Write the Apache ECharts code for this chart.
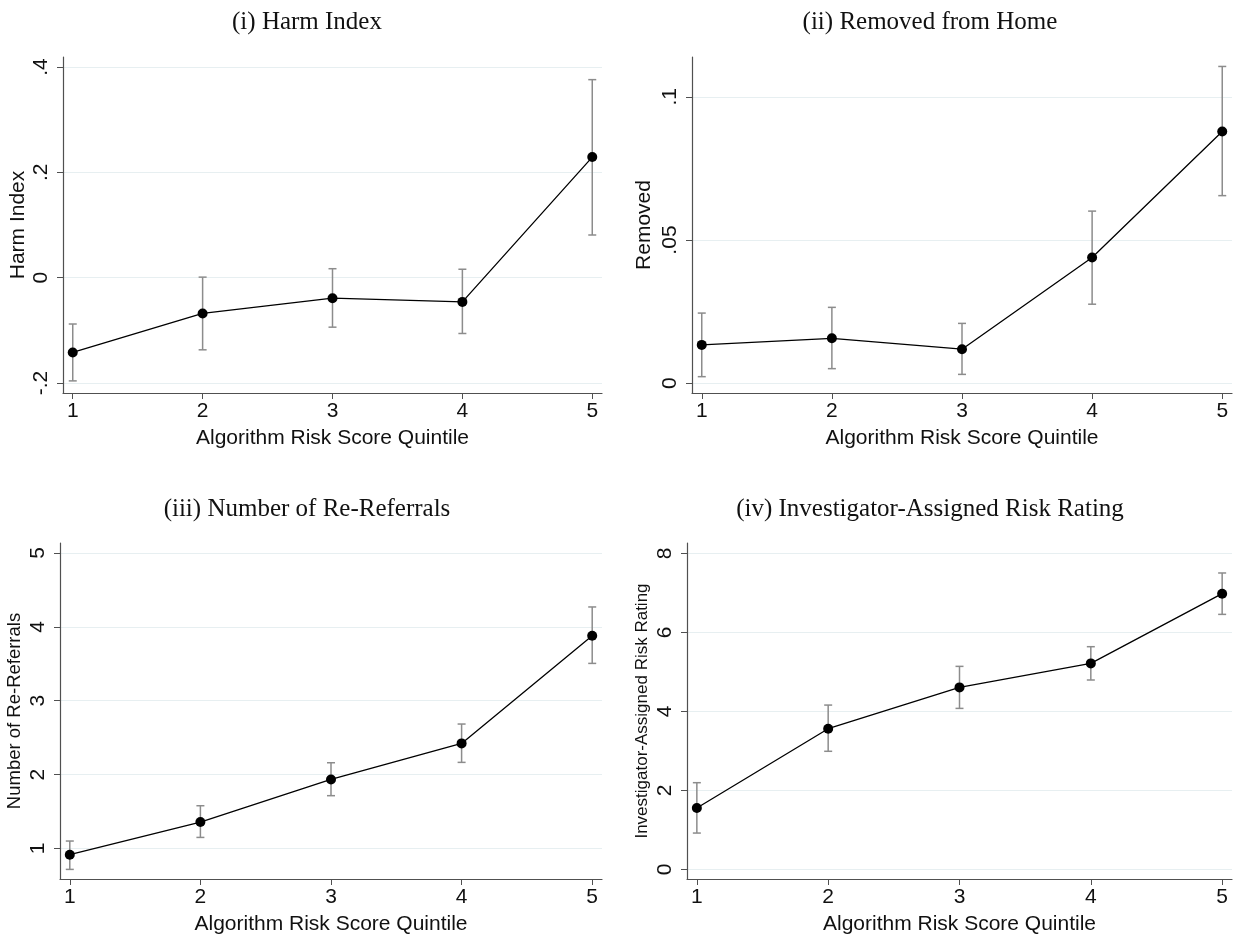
<!DOCTYPE html>
<html><head><meta charset="utf-8">
<script src="https://cdn.jsdelivr.net/npm/echarts@6/dist/echarts.min.js"></script>
<style>html,body{margin:0;padding:0;background:#fff}#c{width:1233px;height:938px}</style>
</head><body><div id="c"></div>
<script>
// ---- data ----
const quintiles = [1, 2, 3, 4, 5];
const xTicks = [1, 2, 3, 4, 5];

const harmMean = [-0.142, -0.068, -0.039, -0.046, 0.229];
const harmLo   = [-0.196, -0.137, -0.094, -0.106, 0.081];
const harmHi   = [-0.088, 0.001, 0.017, 0.016, 0.376];
const harmTicks = [-0.2, 0, 0.2, 0.4];

const removedMean = [0.0134, 0.0157, 0.0119, 0.0439, 0.0879];
const removedLo   = [0.0023, 0.0051, 0.0031, 0.0276, 0.0655];
const removedHi   = [0.0245, 0.0265, 0.0209, 0.0601, 0.1106];
const removedTicks = [0, 0.05, 0.1];

const rerefMean = [0.915, 1.357, 1.934, 2.422, 3.880];
const rerefLo   = [0.716, 1.149, 1.714, 2.165, 3.505];
const rerefHi   = [1.100, 1.578, 2.160, 2.684, 4.269];
const rerefTicks = [1, 2, 3, 4, 5];

const ratingMean = [1.554, 3.562, 4.608, 5.215, 6.980];
const ratingLo   = [0.920, 2.990, 4.076, 4.795, 6.456];
const ratingHi   = [2.195, 4.160, 5.140, 5.638, 7.504];
const ratingTicks = [0, 2, 4, 6, 8];

const titles = ['(i) Harm Index', '(ii) Removed from Home', '(iii) Number of Re-Referrals', '(iv) Investigator-Assigned Risk Rating'];
const yNames = ['Harm Index', 'Removed', 'Number of Re-Referrals', 'Investigator-Assigned Risk Rating'];
const xName = 'Algorithm Risk Score Quintile';

// ---- layout ----
const panels = [
  {mean: harmMean, lo: harmLo, hi: harmHi, ticks: harmTicks, ymin: -0.219, ymax: 0.419,
   grid: {left: 63, top: 57, width: 539, height: 336}, titleX: 302, titleY: 5, yNameSize: 21, yNameGap: 34},
  {mean: removedMean, lo: removedLo, hi: removedHi, ticks: removedTicks, ymin: -0.0034, ymax: 0.1139,
   grid: {left: 692, top: 57, width: 540, height: 336}, titleX: 925, titleY: 5, yNameSize: 21, yNameGap: 37},
  {mean: rerefMean, lo: rerefLo, hi: rerefHi, ticks: rerefTicks, ymin: 0.586, ymax: 5.135,
   grid: {left: 60, top: 543, width: 542, height: 336}, titleX: 302, titleY: 492, yNameSize: 18.5, yNameGap: 36},
  {mean: ratingMean, lo: ratingLo, hi: ratingHi, ticks: ratingTicks, ymin: -0.243, ymax: 8.263,
   grid: {left: 687, top: 543, width: 545, height: 336}, titleX: 925, titleY: 492, yNameSize: 17, yNameGap: 36}
];

const sans = 'Liberation Sans';
const axisColor = '#505050';
const gridColor = '#e7eff1';
const fmt = v => String(+(+v).toFixed(4)).replace(/^(-?)0\./, '$1.');

const option = {
  backgroundColor: '#fff',
  animation: false,
  title: [], grid: [], xAxis: [], yAxis: [], series: []
};

panels.forEach((p, i) => {
  option.title.push({
    text: titles[i], left: p.titleX, top: p.titleY, textAlign: 'center',
    textStyle: {fontFamily: 'Liberation Serif', fontWeight: 'normal', fontSize: 25, color: '#111'}
  });
  option.grid.push(Object.assign({outerBoundsMode: 'none', containLabel: false}, p.grid));
  option.xAxis.push({
    type: 'value', gridIndex: i, min: 0.925, max: 5.075,
    name: xName, nameLocation: 'middle', nameGap: 35,
    nameTextStyle: {fontFamily: sans, fontSize: 21, color: '#111'},
    axisLine: {show: true, onZero: false, lineStyle: {color: axisColor, width: 1.2}},
    axisTick: {show: true, customValues: xTicks, length: 6, lineStyle: {color: axisColor}},
    axisLabel: {customValues: xTicks, margin: 8, fontFamily: sans, fontSize: 21, color: '#111', formatter: v => String(v)},
    splitLine: {show: false}
  });
  option.yAxis.push({
    type: 'value', gridIndex: i, min: p.ymin, max: p.ymax,
    name: yNames[i], nameLocation: 'middle', nameGap: p.yNameGap, nameRotate: 90,
    nameTextStyle: {fontFamily: sans, fontSize: p.yNameSize, color: '#111'},
    axisLine: {show: true, onZero: false, lineStyle: {color: axisColor, width: 1.2}},
    axisTick: {show: true, customValues: p.ticks, length: 6, lineStyle: {color: axisColor}},
    axisLabel: {customValues: p.ticks, rotate: 90, margin: 11, fontFamily: sans, fontSize: 21, color: '#111', formatter: fmt},
    splitLine: {show: false}
  });
  // error bars (with gridlines as markLine underneath)
  option.series.push({
    type: 'custom', xAxisIndex: i, yAxisIndex: i, z: 2,
    data: quintiles.map((q, k) => [q, p.lo[k], p.hi[k]]),
    encode: {x: 0, y: [1, 2]},
    renderItem: (params, api) => {
      const x = api.value(0);
      const a = api.coord([x, api.value(1)]);
      const b = api.coord([x, api.value(2)]);
      const hw = 4;
      const st = {stroke: '#8c8c8c', lineWidth: 1.5};
      return {type: 'group', children: [
        {type: 'line', shape: {x1: a[0], y1: a[1], x2: b[0], y2: b[1]}, style: st},
        {type: 'line', shape: {x1: a[0] - hw, y1: a[1], x2: a[0] + hw, y2: a[1]}, style: st},
        {type: 'line', shape: {x1: b[0] - hw, y1: b[1], x2: b[0] + hw, y2: b[1]}, style: st}
      ]};
    },
    markLine: {
      silent: true, z: 0, zlevel: 0, symbol: ['none', 'none'], label: {show: false}, animation: false,
      lineStyle: {color: gridColor, width: 1.2, type: 'solid'},
      emphasis: {disabled: true},
      data: p.ticks.map(t => ({yAxis: t}))
    }
  });
  option.series.push({
    type: 'line', xAxisIndex: i, yAxisIndex: i, z: 3,
    data: quintiles.map((q, k) => [q, p.mean[k]]),
    symbol: 'circle', symbolSize: 10, showSymbol: true,
    lineStyle: {color: '#000', width: 1.3},
    itemStyle: {color: '#000'}
  });
});

const chart = echarts.init(document.getElementById('c'), null, {renderer: 'canvas'});
chart.setOption(option);
</script>
</body></html>
